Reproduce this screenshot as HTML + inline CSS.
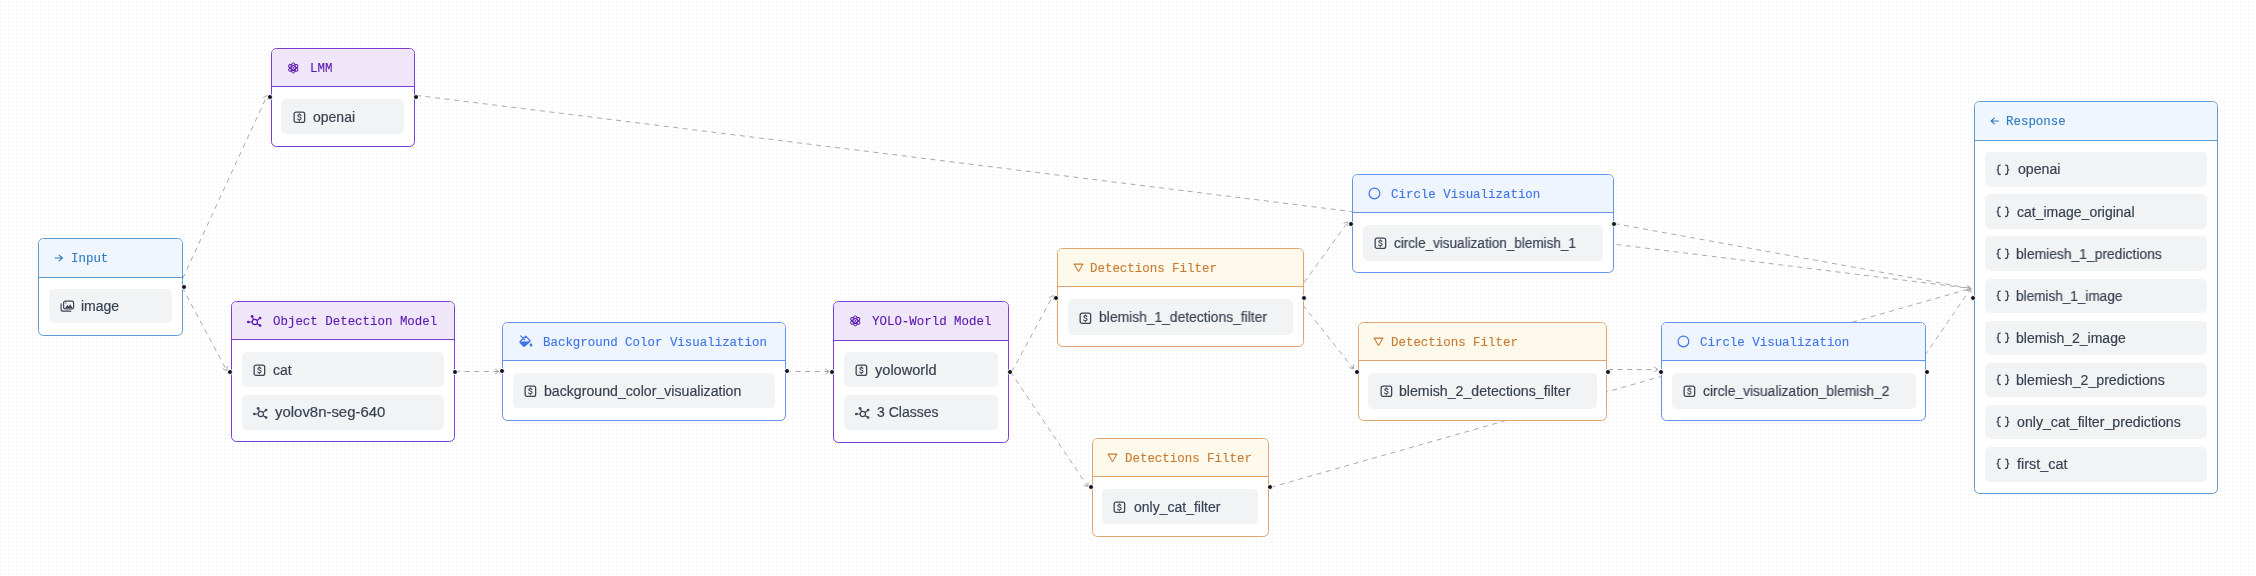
<!DOCTYPE html><html><head><meta charset="utf-8"><style>
*{box-sizing:border-box;margin:0;padding:0}
html,body{width:2256px;height:576px;overflow:hidden;background:#fff}
body{position:relative;font-family:"Liberation Sans",sans-serif}
.bg{position:absolute;left:0;top:0;width:2256px;height:576px;
 background-image:radial-gradient(circle at 0.5px 0.5px,#efefef 0.5px,transparent 1px);
 background-size:4px 4px;background-position:0 2px}
svg.edges{position:absolute;left:0;top:0}
.node{position:absolute;border:1px solid;border-radius:5.5px;background:#fff}
.hd{position:absolute;left:0;top:0;right:0;border-radius:4.5px 4.5px 0 0}
.dv{position:absolute;left:0;right:0;height:1px}
.ic{position:absolute;overflow:visible}
.ht{position:absolute;font-family:"Liberation Mono",monospace;font-size:12.45px;line-height:14px;white-space:pre;letter-spacing:0;-webkit-text-stroke:0.12px currentColor;transform:scaleY(1.1);transform-origin:0 6.2px;will-change:transform}
.it{position:absolute;background:#f2f3f5;border-radius:5px}
.itt{position:absolute;transform-origin:0 50%;font-size:14px;line-height:16px;color:#374151;white-space:pre;-webkit-text-stroke:0.18px #374151;will-change:transform}
.hdl{position:absolute;width:6px;height:6px;border-radius:50%;background:#111118;border:1px solid #fff}
</style></head><body><div class="bg"></div>

<svg class="edges" width="2256" height="576" viewBox="0 0 2256 576">
<line x1="178.7" y1="287.2" x2="267.2" y2="95.4" stroke="#a9a9ae" stroke-width="1" stroke-dasharray="5 4.6"/>
<polyline points="267.95,99.49 267.20,95.40 263.60,97.48" fill="none" stroke="#a9a9ae" stroke-width="1" stroke-linecap="round" stroke-linejoin="round"/>
<line x1="182.1" y1="287.2" x2="226.8" y2="370.6" stroke="#a9a9ae" stroke-width="1" stroke-dasharray="5 4.6"/>
<polyline points="223.08,368.74 226.80,370.60 227.31,366.47" fill="none" stroke="#a9a9ae" stroke-width="1" stroke-linecap="round" stroke-linejoin="round"/>
<line x1="416.0" y1="95.3" x2="1970.8" y2="288.5" stroke="#a9a9ae" stroke-width="1" stroke-dasharray="5 4.6"/>
<polyline points="1967.13,290.46 1970.80,288.50 1967.72,285.70" fill="none" stroke="#a9a9ae" stroke-width="1" stroke-linecap="round" stroke-linejoin="round"/>
<line x1="455.0" y1="371.5" x2="498.8" y2="371.5" stroke="#a9a9ae" stroke-width="1" stroke-dasharray="5 4.6"/>
<polyline points="495.40,373.90 498.80,371.50 495.40,369.10" fill="none" stroke="#a9a9ae" stroke-width="1" stroke-linecap="round" stroke-linejoin="round"/>
<line x1="786.0" y1="371.5" x2="829.0" y2="371.5" stroke="#a9a9ae" stroke-width="1" stroke-dasharray="5 4.6"/>
<polyline points="825.60,373.90 829.00,371.50 825.60,369.10" fill="none" stroke="#a9a9ae" stroke-width="1" stroke-linecap="round" stroke-linejoin="round"/>
<line x1="1011.8" y1="371.7" x2="1053.1" y2="295.6" stroke="#a9a9ae" stroke-width="1" stroke-dasharray="5 4.6"/>
<polyline points="1053.59,299.73 1053.10,295.60 1049.37,297.44" fill="none" stroke="#a9a9ae" stroke-width="1" stroke-linecap="round" stroke-linejoin="round"/>
<line x1="1010.4" y1="371.7" x2="1087.9" y2="486.7" stroke="#a9a9ae" stroke-width="1" stroke-dasharray="5 4.6"/>
<polyline points="1084.01,485.22 1087.90,486.70 1087.99,482.54" fill="none" stroke="#a9a9ae" stroke-width="1" stroke-linecap="round" stroke-linejoin="round"/>
<line x1="1293.0" y1="297.7" x2="1348.0" y2="221.8" stroke="#a9a9ae" stroke-width="1" stroke-dasharray="5 4.6"/>
<polyline points="1347.95,225.96 1348.00,221.80 1344.06,223.14" fill="none" stroke="#a9a9ae" stroke-width="1" stroke-linecap="round" stroke-linejoin="round"/>
<line x1="1297.0" y1="297.7" x2="1353.6" y2="368.9" stroke="#a9a9ae" stroke-width="1" stroke-dasharray="5 4.6"/>
<polyline points="1349.61,367.73 1353.60,368.90 1353.36,364.75" fill="none" stroke="#a9a9ae" stroke-width="1" stroke-linecap="round" stroke-linejoin="round"/>
<line x1="1614.6" y1="223.6" x2="1970.8" y2="288.5" stroke="#a9a9ae" stroke-width="1" stroke-dasharray="5 4.6"/>
<polyline points="1967.02,290.25 1970.80,288.50 1967.89,285.53" fill="none" stroke="#a9a9ae" stroke-width="1" stroke-linecap="round" stroke-linejoin="round"/>
<line x1="1608.0" y1="369.5" x2="1657.7" y2="369.5" stroke="#a9a9ae" stroke-width="1" stroke-dasharray="5 4.6"/>
<polyline points="1654.30,371.90 1657.70,369.50 1654.30,367.10" fill="none" stroke="#a9a9ae" stroke-width="1" stroke-linecap="round" stroke-linejoin="round"/>
<line x1="1270.5" y1="487.4" x2="1970.8" y2="288.5" stroke="#a9a9ae" stroke-width="1" stroke-dasharray="5 4.6"/>
<polyline points="1968.19,291.74 1970.80,288.50 1966.87,287.12" fill="none" stroke="#a9a9ae" stroke-width="1" stroke-linecap="round" stroke-linejoin="round"/>
<line x1="1914.0" y1="371.2" x2="1970.8" y2="288.5" stroke="#a9a9ae" stroke-width="1" stroke-dasharray="5 4.6"/>
<polyline points="1970.85,292.66 1970.80,288.50 1966.90,289.94" fill="none" stroke="#a9a9ae" stroke-width="1" stroke-linecap="round" stroke-linejoin="round"/>
</svg>
<div class="node" style="left:38.46px;top:238.0px;width:144.54px;height:97.90px;border-color:#5b9bd5"><div class="hd" style="height:38.20px;background:#eff6fe"></div><div class="dv" style="top:38.20px;background:#5b9bd5"></div><div style="position:absolute;left:0;top:-1px"><svg class="ic" style="left:14.94px;top:15.50px" width="10" height="8" viewBox="-0.5 -0.5 10 8"><path d="M0.6 3.5H7.9M4.6 0.6L7.9 3.5L4.6 6.4" fill="none" stroke="#2f7bc2" stroke-width="1.05" stroke-linecap="round" stroke-linejoin="round"/></svg></div><div class="ht" style="left:31.84px;top:13.20px;color:#2f7bc2">Input</div><div class="it" style="left:9.70px;top:50.05px;width:123.14px;height:34.25px"><svg class="ic" style="left:10.50px;top:11.23px" width="15" height="13" viewBox="-0.5 -0.5 15 13"><rect x="3.1" y="0.6" width="10.0" height="7.9" rx="1.7" fill="none" stroke="#3f4654" stroke-width="1.2"/><path d="M0.6 3.4v5.0c0 1.5 0.9 2.3 2.3 2.3h7.3" fill="none" stroke="#3f4654" stroke-width="1.2" stroke-linecap="round"/><path d="M4.3 7.9l2.5-3.3 1.3 1.4 1.6-2.3 2.7 4.2z" fill="#3f4654"/><circle cx="5.2" cy="2.6" r="0.55" fill="#3f4654"/></svg><div class="itt" style="left:31.40px;top:9.13px">image</div></div></div>
<div class="hdl" style="left:180.70px;top:283.95px"></div>
<div class="node" style="left:270.8px;top:47.9px;width:144.3px;height:99.00px;border-color:#7a3ed0"><div class="hd" style="height:37.40px;background:#efe6fa"></div><div class="dv" style="top:37.40px;background:#7a3ed0"></div><div style="position:absolute;left:0;top:-1px"><svg class="ic" style="left:14.80px;top:13.30px" width="13" height="14" viewBox="0 0 13 14"><ellipse cx="6.25" cy="6.9" rx="5.1" ry="2.1" transform="rotate(30 6.25 6.9)" fill="none" stroke="#5a17ad" stroke-width="1.0"/><ellipse cx="6.25" cy="6.9" rx="5.1" ry="2.1" transform="rotate(90 6.25 6.9)" fill="none" stroke="#5a17ad" stroke-width="1.0"/><ellipse cx="6.25" cy="6.9" rx="5.1" ry="2.1" transform="rotate(150 6.25 6.9)" fill="none" stroke="#5a17ad" stroke-width="1.0"/><circle cx="6.25" cy="6.9" r="0.8" fill="#5a17ad"/></svg></div><div class="ht" style="left:38.50px;top:13.20px;color:#5a17ad">LMM</div><div class="it" style="left:9.70px;top:50.05px;width:122.90px;height:35.35px"><svg class="ic" style="left:11.30px;top:12.18px" width="13" height="13" viewBox="-0.5 -0.5 13 13"><rect x="0.65" y="0.65" width="10.5" height="10.3" rx="1.9" fill="none" stroke="#3f4654" stroke-width="1.3"/><path d="M7.5 3.9c-.3-.6-.9-.8-1.6-.8-.9 0-1.6.5-1.6 1.2 0 1.6 3.3.9 3.3 2.7 0 .8-.7 1.3-1.7 1.3-.8 0-1.4-.3-1.7-.9M5.9 2.3v.8M5.9 8.3v.9" fill="none" stroke="#3f4654" stroke-width="1.05" stroke-linecap="round"/></svg><div class="itt" style="left:31.40px;top:9.68px">openai</div></div></div>
<div class="hdl" style="left:266.90px;top:94.40px"></div>
<div class="hdl" style="left:412.80px;top:94.40px"></div>
<div class="node" style="left:230.85px;top:300.9px;width:223.85px;height:141.50px;border-color:#7a3ed0"><div class="hd" style="height:37.40px;background:#efe6fa"></div><div class="dv" style="top:37.40px;background:#7a3ed0"></div><div style="position:absolute;left:0;top:-1px"><svg class="ic" style="left:14.15px;top:12.80px" width="18" height="15" viewBox="0 0 18 15"><g transform="translate(8.80,8.00)" stroke="#5a17ad" fill="#5a17ad" stroke-width="1.15"><circle cx="0" cy="0" r="2.6" fill="none"/><path d="M-2.6 0H-6.5M-1.2 -2.3L-2.7 -5.7M2.2 -1.4L5.3 -4M2.2 1.4L5.3 3.5" fill="none"/><circle cx="-6.5" cy="0" r="1.35" stroke="none"/><circle cx="-2.7" cy="-5.7" r="1.35" stroke="none"/><circle cx="5.3" cy="-4" r="1.35" stroke="none"/><circle cx="5.3" cy="3.5" r="1.35" stroke="none"/></g></svg></div><div class="ht" style="left:41.55px;top:13.20px;color:#5a17ad">Object Detection Model</div><div class="it" style="left:9.70px;top:50.05px;width:202.45px;height:35.18px"><svg class="ic" style="left:11.30px;top:12.09px" width="13" height="13" viewBox="-0.5 -0.5 13 13"><rect x="0.65" y="0.65" width="10.5" height="10.3" rx="1.9" fill="none" stroke="#3f4654" stroke-width="1.3"/><path d="M7.5 3.9c-.3-.6-.9-.8-1.6-.8-.9 0-1.6.5-1.6 1.2 0 1.6 3.3.9 3.3 2.7 0 .8-.7 1.3-1.7 1.3-.8 0-1.4-.3-1.7-.9M5.9 2.3v.8M5.9 8.3v.9" fill="none" stroke="#3f4654" stroke-width="1.05" stroke-linecap="round"/></svg><div class="itt" style="left:31.40px;top:9.59px">cat</div></div><div class="it" style="left:9.70px;top:92.72px;width:202.45px;height:35.18px"><svg class="ic" style="left:10.30px;top:11.49px" width="18" height="15" viewBox="0 0 18 15"><g transform="translate(8.80,8.00)" stroke="#3f4654" fill="#3f4654" stroke-width="1.15"><circle cx="0" cy="0" r="2.6" fill="none"/><path d="M-2.6 0H-6.5M-1.2 -2.3L-2.7 -5.7M2.2 -1.4L5.3 -4M2.2 1.4L5.3 3.5" fill="none"/><circle cx="-6.5" cy="0" r="1.35" stroke="none"/><circle cx="-2.7" cy="-5.7" r="1.35" stroke="none"/><circle cx="5.3" cy="-4" r="1.35" stroke="none"/><circle cx="5.3" cy="3.5" r="1.35" stroke="none"/></g></svg><div class="itt" style="left:33.80px;top:9.59px;transform:scaleX(1.066)">yolov8n-seg-640</div></div></div>
<div class="hdl" style="left:226.95px;top:368.65px"></div>
<div class="hdl" style="left:452.40px;top:368.65px"></div>
<div class="node" style="left:502.4px;top:322.0px;width:283.4px;height:98.90px;border-color:#6492ef"><div class="hd" style="height:37.40px;background:#eef5fe"></div><div class="dv" style="top:37.40px;background:#6492ef"></div><div style="position:absolute;left:0;top:-1px"><svg class="ic" style="left:15.80px;top:12.80px" width="15" height="13" viewBox="-0.5 -0.5 15 13"><path d="M1.2 0.3L5.3 4.4" fill="none" stroke="#3f74e4" stroke-width="1.2" stroke-linecap="round"/><path d="M6.2 0.7L10.4 5.0Q10.8 5.4 10.4 5.8L5.1 10.5Q4.6 10.9 4.1 10.5L0.6 7.0Q0.2 6.5 0.6 6.0Z" fill="none" stroke="#3f74e4" stroke-width="1.2" stroke-linejoin="round"/><path d="M0.3 6.1H10.9L5.1 10.9Q4.6 11.2 4.1 10.9Z" fill="#3f74e4"/><path d="M11.5 7.4C12.3 8.4 12.9 9.1 12.9 9.7A1.4 1.4 0 0 1 10.1 9.7C10.1 9.1 10.7 8.4 11.5 7.4Z" fill="#3f74e4"/></svg></div><div class="ht" style="left:39.65px;top:13.20px;color:#3f74e4">Background Color Visualization</div><div class="it" style="left:9.70px;top:50.05px;width:262.00px;height:35.25px"><svg class="ic" style="left:11.30px;top:12.13px" width="13" height="13" viewBox="-0.5 -0.5 13 13"><rect x="0.65" y="0.65" width="10.5" height="10.3" rx="1.9" fill="none" stroke="#3f4654" stroke-width="1.3"/><path d="M7.5 3.9c-.3-.6-.9-.8-1.6-.8-.9 0-1.6.5-1.6 1.2 0 1.6 3.3.9 3.3 2.7 0 .8-.7 1.3-1.7 1.3-.8 0-1.4-.3-1.7-.9M5.9 2.3v.8M5.9 8.3v.9" fill="none" stroke="#3f4654" stroke-width="1.05" stroke-linecap="round"/></svg><div class="itt" style="left:31.40px;top:9.63px;transform:scaleX(1.01)">background_color_visualization</div></div></div>
<div class="hdl" style="left:498.50px;top:368.45px"></div>
<div class="hdl" style="left:783.50px;top:368.45px"></div>
<div class="node" style="left:832.9px;top:301.2px;width:176.1px;height:141.50px;border-color:#7a3ed0"><div class="hd" style="height:37.40px;background:#efe6fa"></div><div class="dv" style="top:37.40px;background:#7a3ed0"></div><div style="position:absolute;left:0;top:-1px"><svg class="ic" style="left:14.80px;top:13.30px" width="13" height="14" viewBox="0 0 13 14"><ellipse cx="6.25" cy="6.9" rx="5.1" ry="2.1" transform="rotate(30 6.25 6.9)" fill="none" stroke="#5a17ad" stroke-width="1.0"/><ellipse cx="6.25" cy="6.9" rx="5.1" ry="2.1" transform="rotate(90 6.25 6.9)" fill="none" stroke="#5a17ad" stroke-width="1.0"/><ellipse cx="6.25" cy="6.9" rx="5.1" ry="2.1" transform="rotate(150 6.25 6.9)" fill="none" stroke="#5a17ad" stroke-width="1.0"/><circle cx="6.25" cy="6.9" r="0.8" fill="#5a17ad"/></svg></div><div class="ht" style="left:38.20px;top:13.20px;color:#5a17ad">YOLO-World Model</div><div class="it" style="left:9.70px;top:50.05px;width:154.70px;height:35.18px"><svg class="ic" style="left:11.30px;top:12.09px" width="13" height="13" viewBox="-0.5 -0.5 13 13"><rect x="0.65" y="0.65" width="10.5" height="10.3" rx="1.9" fill="none" stroke="#3f4654" stroke-width="1.3"/><path d="M7.5 3.9c-.3-.6-.9-.8-1.6-.8-.9 0-1.6.5-1.6 1.2 0 1.6 3.3.9 3.3 2.7 0 .8-.7 1.3-1.7 1.3-.8 0-1.4-.3-1.7-.9M5.9 2.3v.8M5.9 8.3v.9" fill="none" stroke="#3f4654" stroke-width="1.05" stroke-linecap="round"/></svg><div class="itt" style="left:31.40px;top:9.59px;transform:scaleX(1.04)">yoloworld</div></div><div class="it" style="left:9.70px;top:92.72px;width:154.70px;height:35.18px"><svg class="ic" style="left:10.30px;top:11.49px" width="18" height="15" viewBox="0 0 18 15"><g transform="translate(8.80,8.00)" stroke="#3f4654" fill="#3f4654" stroke-width="1.15"><circle cx="0" cy="0" r="2.6" fill="none"/><path d="M-2.6 0H-6.5M-1.2 -2.3L-2.7 -5.7M2.2 -1.4L5.3 -4M2.2 1.4L5.3 3.5" fill="none"/><circle cx="-6.5" cy="0" r="1.35" stroke="none"/><circle cx="-2.7" cy="-5.7" r="1.35" stroke="none"/><circle cx="5.3" cy="-4" r="1.35" stroke="none"/><circle cx="5.3" cy="3.5" r="1.35" stroke="none"/></g></svg><div class="itt" style="left:33.70px;top:9.59px">3 Classes</div></div></div>
<div class="hdl" style="left:829.00px;top:368.95px"></div>
<div class="hdl" style="left:1006.70px;top:368.95px"></div>
<div class="node" style="left:1057.0px;top:248.25px;width:246.6px;height:99.15px;border-color:#e0a56e"><div class="hd" style="height:36.90px;background:#fefaeb"></div><div class="dv" style="top:36.90px;background:#e0a56e"></div><div style="position:absolute;left:0;top:-1px"><svg class="ic" style="left:14.70px;top:14.70px" width="11" height="10" viewBox="-0.5 -0.5 11 10"><path d="M0.6 0.6H9.4L5.4 7.5Q5.0 8.1 4.6 7.5Z" fill="none" stroke="#c77a32" stroke-width="1.05" stroke-linejoin="round"/></svg></div><div class="ht" style="left:32.30px;top:13.20px;color:#c77a32">Detections Filter</div><div class="it" style="left:9.70px;top:50.05px;width:225.20px;height:35.50px"><svg class="ic" style="left:11.30px;top:12.25px" width="13" height="13" viewBox="-0.5 -0.5 13 13"><rect x="0.65" y="0.65" width="10.5" height="10.3" rx="1.9" fill="none" stroke="#3f4654" stroke-width="1.3"/><path d="M7.5 3.9c-.3-.6-.9-.8-1.6-.8-.9 0-1.6.5-1.6 1.2 0 1.6 3.3.9 3.3 2.7 0 .8-.7 1.3-1.7 1.3-.8 0-1.4-.3-1.7-.9M5.9 2.3v.8M5.9 8.3v.9" fill="none" stroke="#3f4654" stroke-width="1.05" stroke-linecap="round"/></svg><div class="itt" style="left:30.90px;top:9.75px;transform:scaleX(0.99)">blemish_1_detections_filter</div></div></div>
<div class="hdl" style="left:1053.10px;top:294.82px"></div>
<div class="hdl" style="left:1301.30px;top:294.82px"></div>
<div class="node" style="left:1352.0px;top:173.9px;width:261.6px;height:99.30px;border-color:#6492ef"><div class="hd" style="height:37.40px;background:#eef5fe"></div><div class="dv" style="top:37.40px;background:#6492ef"></div><div style="position:absolute;left:0;top:-1px"><svg class="ic" style="left:14.60px;top:13.05px" width="13" height="13" viewBox="-0.5 -0.5 13 13"><circle cx="5.95" cy="5.95" r="5.35" fill="none" stroke="#3f74e4" stroke-width="1.2"/></svg></div><div class="ht" style="left:38.00px;top:13.20px;color:#3f74e4">Circle Visualization</div><div class="it" style="left:9.70px;top:50.05px;width:240.20px;height:35.65px"><svg class="ic" style="left:11.30px;top:12.33px" width="13" height="13" viewBox="-0.5 -0.5 13 13"><rect x="0.65" y="0.65" width="10.5" height="10.3" rx="1.9" fill="none" stroke="#3f4654" stroke-width="1.3"/><path d="M7.5 3.9c-.3-.6-.9-.8-1.6-.8-.9 0-1.6.5-1.6 1.2 0 1.6 3.3.9 3.3 2.7 0 .8-.7 1.3-1.7 1.3-.8 0-1.4-.3-1.7-.9M5.9 2.3v.8M5.9 8.3v.9" fill="none" stroke="#3f4654" stroke-width="1.05" stroke-linecap="round"/></svg><div class="itt" style="left:31.40px;top:9.83px;transform:scaleX(0.966)">circle_visualization_blemish_1</div></div></div>
<div class="hdl" style="left:1348.10px;top:220.55px"></div>
<div class="hdl" style="left:1611.30px;top:220.55px"></div>
<div class="node" style="left:1357.6px;top:321.9px;width:249.8px;height:99.30px;border-color:#e0a56e"><div class="hd" style="height:37.40px;background:#fefaeb"></div><div class="dv" style="top:37.40px;background:#e0a56e"></div><div style="position:absolute;left:0;top:-1px"><svg class="ic" style="left:14.65px;top:14.70px" width="11" height="10" viewBox="-0.5 -0.5 11 10"><path d="M0.6 0.6H9.4L5.4 7.5Q5.0 8.1 4.6 7.5Z" fill="none" stroke="#c77a32" stroke-width="1.05" stroke-linejoin="round"/></svg></div><div class="ht" style="left:31.95px;top:13.20px;color:#c77a32">Detections Filter</div><div class="it" style="left:9.70px;top:50.05px;width:228.40px;height:35.65px"><svg class="ic" style="left:11.30px;top:12.33px" width="13" height="13" viewBox="-0.5 -0.5 13 13"><rect x="0.65" y="0.65" width="10.5" height="10.3" rx="1.9" fill="none" stroke="#3f4654" stroke-width="1.3"/><path d="M7.5 3.9c-.3-.6-.9-.8-1.6-.8-.9 0-1.6.5-1.6 1.2 0 1.6 3.3.9 3.3 2.7 0 .8-.7 1.3-1.7 1.3-.8 0-1.4-.3-1.7-.9M5.9 2.3v.8M5.9 8.3v.9" fill="none" stroke="#3f4654" stroke-width="1.05" stroke-linecap="round"/></svg><div class="itt" style="left:30.40px;top:9.83px;transform:scaleX(1.01)">blemish_2_detections_filter</div></div></div>
<div class="hdl" style="left:1353.70px;top:368.55px"></div>
<div class="hdl" style="left:1605.10px;top:368.55px"></div>
<div class="node" style="left:1661.4px;top:321.9px;width:264.9px;height:99.30px;border-color:#6492ef"><div class="hd" style="height:37.40px;background:#eef5fe"></div><div class="dv" style="top:37.40px;background:#6492ef"></div><div style="position:absolute;left:0;top:-1px"><svg class="ic" style="left:14.60px;top:13.05px" width="13" height="13" viewBox="-0.5 -0.5 13 13"><circle cx="5.95" cy="5.95" r="5.35" fill="none" stroke="#3f74e4" stroke-width="1.2"/></svg></div><div class="ht" style="left:37.90px;top:13.20px;color:#3f74e4">Circle Visualization</div><div class="it" style="left:9.70px;top:50.05px;width:243.50px;height:35.65px"><svg class="ic" style="left:11.30px;top:12.33px" width="13" height="13" viewBox="-0.5 -0.5 13 13"><rect x="0.65" y="0.65" width="10.5" height="10.3" rx="1.9" fill="none" stroke="#3f4654" stroke-width="1.3"/><path d="M7.5 3.9c-.3-.6-.9-.8-1.6-.8-.9 0-1.6.5-1.6 1.2 0 1.6 3.3.9 3.3 2.7 0 .8-.7 1.3-1.7 1.3-.8 0-1.4-.3-1.7-.9M5.9 2.3v.8M5.9 8.3v.9" fill="none" stroke="#3f4654" stroke-width="1.05" stroke-linecap="round"/></svg><div class="itt" style="left:31.40px;top:9.83px;transform:scaleX(0.99)">circle_visualization_blemish_2</div></div></div>
<div class="hdl" style="left:1657.50px;top:368.55px"></div>
<div class="hdl" style="left:1924.00px;top:368.55px"></div>
<div class="node" style="left:1091.5px;top:437.9px;width:177.6px;height:98.80px;border-color:#e0a56e"><div class="hd" style="height:37.40px;background:#fefaeb"></div><div class="dv" style="top:37.40px;background:#e0a56e"></div><div style="position:absolute;left:0;top:-1px"><svg class="ic" style="left:14.90px;top:14.70px" width="11" height="10" viewBox="-0.5 -0.5 11 10"><path d="M0.6 0.6H9.4L5.4 7.5Q5.0 8.1 4.6 7.5Z" fill="none" stroke="#c77a32" stroke-width="1.05" stroke-linejoin="round"/></svg></div><div class="ht" style="left:32.30px;top:13.20px;color:#c77a32">Detections Filter</div><div class="it" style="left:9.70px;top:50.05px;width:156.20px;height:35.15px"><svg class="ic" style="left:11.30px;top:12.08px" width="13" height="13" viewBox="-0.5 -0.5 13 13"><rect x="0.65" y="0.65" width="10.5" height="10.3" rx="1.9" fill="none" stroke="#3f4654" stroke-width="1.3"/><path d="M7.5 3.9c-.3-.6-.9-.8-1.6-.8-.9 0-1.6.5-1.6 1.2 0 1.6 3.3.9 3.3 2.7 0 .8-.7 1.3-1.7 1.3-.8 0-1.4-.3-1.7-.9M5.9 2.3v.8M5.9 8.3v.9" fill="none" stroke="#3f4654" stroke-width="1.05" stroke-linecap="round"/></svg><div class="itt" style="left:31.40px;top:9.58px">only_cat_filter</div></div></div>
<div class="hdl" style="left:1087.60px;top:484.30px"></div>
<div class="hdl" style="left:1266.80px;top:484.30px"></div>
<div class="node" style="left:1974.2px;top:101.1px;width:243.9px;height:393.10px;border-color:#5b9bd5"><div class="hd" style="height:38.10px;background:#eff6fe"></div><div class="dv" style="top:38.10px;background:#5b9bd5"></div><div style="position:absolute;left:0;top:-1px"><svg class="ic" style="left:15.10px;top:15.50px" width="10" height="8" viewBox="-0.5 -0.5 10 8"><path d="M7.9 3.5H0.6M3.9 0.6L0.6 3.5L3.9 6.4" fill="none" stroke="#2f7bc2" stroke-width="1.05" stroke-linecap="round" stroke-linejoin="round"/></svg></div><div class="ht" style="left:31.30px;top:13.20px;color:#2f7bc2">Response</div><div class="it" style="left:9.70px;top:50.05px;width:222.50px;height:34.62px"><svg class="ic" style="left:10.80px;top:11.51px" width="14" height="12" viewBox="-0.5 -0.5 14 12"><path d="M3.7 0.6c-1.4 0-2 .7-2 1.7v1.7c0 .8-.4 1.3-1.2 1.3.8 0 1.2.5 1.2 1.3v1.7c0 1 .6 1.7 2 1.7M9.1 0.6c1.4 0 2 .7 2 1.7v1.7c0 .8.4 1.3 1.2 1.3-.8 0-1.2.5-1.2 1.3v1.7c0 1-.6 1.7-2 1.7" fill="none" stroke="#3f4654" stroke-width="1.3" stroke-linecap="round" stroke-linejoin="round"/></svg><div class="itt" style="left:32.90px;top:9.31px;transform:scaleX(1.01)">openai</div></div><div class="it" style="left:9.70px;top:92.17px;width:222.50px;height:34.62px"><svg class="ic" style="left:10.80px;top:11.51px" width="14" height="12" viewBox="-0.5 -0.5 14 12"><path d="M3.7 0.6c-1.4 0-2 .7-2 1.7v1.7c0 .8-.4 1.3-1.2 1.3.8 0 1.2.5 1.2 1.3v1.7c0 1 .6 1.7 2 1.7M9.1 0.6c1.4 0 2 .7 2 1.7v1.7c0 .8.4 1.3 1.2 1.3-.8 0-1.2.5-1.2 1.3v1.7c0 1-.6 1.7-2 1.7" fill="none" stroke="#3f4654" stroke-width="1.3" stroke-linecap="round" stroke-linejoin="round"/></svg><div class="itt" style="left:32.40px;top:9.31px">cat_image_original</div></div><div class="it" style="left:9.70px;top:134.29px;width:222.50px;height:34.62px"><svg class="ic" style="left:10.80px;top:11.51px" width="14" height="12" viewBox="-0.5 -0.5 14 12"><path d="M3.7 0.6c-1.4 0-2 .7-2 1.7v1.7c0 .8-.4 1.3-1.2 1.3.8 0 1.2.5 1.2 1.3v1.7c0 1 .6 1.7 2 1.7M9.1 0.6c1.4 0 2 .7 2 1.7v1.7c0 .8.4 1.3 1.2 1.3-.8 0-1.2.5-1.2 1.3v1.7c0 1-.6 1.7-2 1.7" fill="none" stroke="#3f4654" stroke-width="1.3" stroke-linecap="round" stroke-linejoin="round"/></svg><div class="itt" style="left:31.40px;top:9.31px;transform:scaleX(0.991)">blemiesh_1_predictions</div></div><div class="it" style="left:9.70px;top:176.41px;width:222.50px;height:34.62px"><svg class="ic" style="left:10.80px;top:11.51px" width="14" height="12" viewBox="-0.5 -0.5 14 12"><path d="M3.7 0.6c-1.4 0-2 .7-2 1.7v1.7c0 .8-.4 1.3-1.2 1.3.8 0 1.2.5 1.2 1.3v1.7c0 1 .6 1.7 2 1.7M9.1 0.6c1.4 0 2 .7 2 1.7v1.7c0 .8.4 1.3 1.2 1.3-.8 0-1.2.5-1.2 1.3v1.7c0 1-.6 1.7-2 1.7" fill="none" stroke="#3f4654" stroke-width="1.3" stroke-linecap="round" stroke-linejoin="round"/></svg><div class="itt" style="left:31.40px;top:9.31px;transform:scaleX(0.969)">blemish_1_image</div></div><div class="it" style="left:9.70px;top:218.52px;width:222.50px;height:34.62px"><svg class="ic" style="left:10.80px;top:11.51px" width="14" height="12" viewBox="-0.5 -0.5 14 12"><path d="M3.7 0.6c-1.4 0-2 .7-2 1.7v1.7c0 .8-.4 1.3-1.2 1.3.8 0 1.2.5 1.2 1.3v1.7c0 1 .6 1.7 2 1.7M9.1 0.6c1.4 0 2 .7 2 1.7v1.7c0 .8.4 1.3 1.2 1.3-.8 0-1.2.5-1.2 1.3v1.7c0 1-.6 1.7-2 1.7" fill="none" stroke="#3f4654" stroke-width="1.3" stroke-linecap="round" stroke-linejoin="round"/></svg><div class="itt" style="left:31.40px;top:9.31px">blemish_2_image</div></div><div class="it" style="left:9.70px;top:260.64px;width:222.50px;height:34.62px"><svg class="ic" style="left:10.80px;top:11.51px" width="14" height="12" viewBox="-0.5 -0.5 14 12"><path d="M3.7 0.6c-1.4 0-2 .7-2 1.7v1.7c0 .8-.4 1.3-1.2 1.3.8 0 1.2.5 1.2 1.3v1.7c0 1 .6 1.7 2 1.7M9.1 0.6c1.4 0 2 .7 2 1.7v1.7c0 .8.4 1.3 1.2 1.3-.8 0-1.2.5-1.2 1.3v1.7c0 1-.6 1.7-2 1.7" fill="none" stroke="#3f4654" stroke-width="1.3" stroke-linecap="round" stroke-linejoin="round"/></svg><div class="itt" style="left:31.40px;top:9.31px;transform:scaleX(1.011)">blemiesh_2_predictions</div></div><div class="it" style="left:9.70px;top:302.76px;width:222.50px;height:34.62px"><svg class="ic" style="left:10.80px;top:11.51px" width="14" height="12" viewBox="-0.5 -0.5 14 12"><path d="M3.7 0.6c-1.4 0-2 .7-2 1.7v1.7c0 .8-.4 1.3-1.2 1.3.8 0 1.2.5 1.2 1.3v1.7c0 1 .6 1.7 2 1.7M9.1 0.6c1.4 0 2 .7 2 1.7v1.7c0 .8.4 1.3 1.2 1.3-.8 0-1.2.5-1.2 1.3v1.7c0 1-.6 1.7-2 1.7" fill="none" stroke="#3f4654" stroke-width="1.3" stroke-linecap="round" stroke-linejoin="round"/></svg><div class="itt" style="left:32.40px;top:9.31px;transform:scaleX(1.012)">only_cat_filter_predictions</div></div><div class="it" style="left:9.70px;top:344.88px;width:222.50px;height:34.62px"><svg class="ic" style="left:10.80px;top:11.51px" width="14" height="12" viewBox="-0.5 -0.5 14 12"><path d="M3.7 0.6c-1.4 0-2 .7-2 1.7v1.7c0 .8-.4 1.3-1.2 1.3.8 0 1.2.5 1.2 1.3v1.7c0 1 .6 1.7 2 1.7M9.1 0.6c1.4 0 2 .7 2 1.7v1.7c0 .8.4 1.3 1.2 1.3-.8 0-1.2.5-1.2 1.3v1.7c0 1-.6 1.7-2 1.7" fill="none" stroke="#3f4654" stroke-width="1.3" stroke-linecap="round" stroke-linejoin="round"/></svg><div class="itt" style="left:32.40px;top:9.31px;transform:scaleX(1.03)">first_cat</div></div></div>
<div class="hdl" style="left:1970.30px;top:294.65px"></div>
</body></html>
